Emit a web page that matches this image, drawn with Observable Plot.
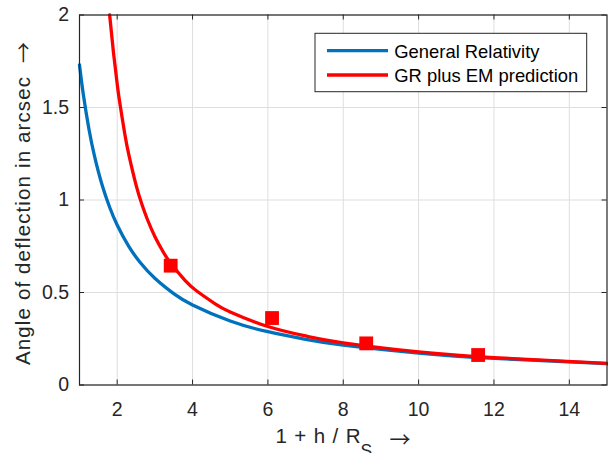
<!DOCTYPE html>
<html><head><meta charset="utf-8">
<script src="https://cdn.jsdelivr.net/npm/d3@7"></script>
<script src="https://cdn.jsdelivr.net/npm/@observablehq/plot@0.6"></script>
<style>body{margin:0;background:#fff} svg{display:block}</style>
</head><body><div id="chart"></div>
<script>
const seriesNames = ["General Relativity", "GR plus EM prediction"];
const grX = [1, 1.1, 1.25, 1.4, 1.6, 1.8, 2, 2.3, 2.6, 3, 3.5, 4, 5, 6, 7, 8, 10, 12, 15];
const grY = [1.73, 1.573, 1.384, 1.236, 1.081, 0.961, 0.865, 0.752, 0.665, 0.577, 0.494, 0.433, 0.346, 0.288, 0.247, 0.216, 0.173, 0.144, 0.115];
const emX = [1.8, 1.9, 2.0, 2.06, 2.2, 2.31, 2.5, 2.66, 2.8, 3.0, 3.2, 3.41, 3.8, 4.12, 4.6, 5, 6, 7, 8, 10, 12, 15];
const emY = [2.0, 1.80, 1.628, 1.538, 1.359, 1.244, 1.082, 0.974, 0.896, 0.803, 0.727, 0.661, 0.566, 0.507, 0.439, 0.395, 0.316, 0.265, 0.228, 0.179, 0.148, 0.117];
const obsX = [3.42, 6.11, 8.61, 11.58];
const obsY = [0.645, 0.362, 0.225, 0.162];
const xTicks = [2, 4, 6, 8, 10, 12, 14];
const yTicks = [0, 0.5, 1, 1.5, 2];
const xLabel = "1 + h / R", xLabelSub = "S";
const yLabel = "Angle of deflection in arcsec";
const arrow = "\u2192";

const W = 608, H = 453;
const mL = 79, mR = 1.5, mT = 14.5, mB = 68.5;
const innerW = W - mL - mR, innerH = H - mT - mB;
const blue = "#0072BD", red = "#FF0000", axisC = "#262626";
const font = "'Liberation Sans', Arial, Helvetica, sans-serif";
const arrowFont = "'Noto Sans CJK SC', 'DejaVu Sans', sans-serif";

const gr = grX.map((x, i) => ({x, y: grY[i]}));
const em = emX.map((x, i) => ({x, y: emY[i]}));
const obs = obsX.map((x, i) => ({x, y: obsY[i]}));

const chart = Plot.plot({
  width: W, height: H,
  marginLeft: mL, marginRight: mR, marginTop: mT, marginBottom: mB,
  style: {fontFamily: font, fontSize: "19.5px", color: axisC, background: "#fff", overflow: "visible"},
  x: {domain: [1, 15]},
  y: {domain: [0, 2]},
  marks: [
    Plot.gridX(xTicks, {stroke: "#dedede", strokeOpacity: 1}),
    Plot.gridY(yTicks, {stroke: "#dedede", strokeOpacity: 1}),
    Plot.axisX(xTicks, {tickSize: 0, tickPadding: 17.4, label: null, fill: axisC}),
    Plot.axisY(yTicks, {tickSize: 0, tickPadding: 10.5, label: null, tickFormat: d => String(d), fill: axisC}),
    Plot.tickX(xTicks, {x: d => d, insetTop: innerH - 5, stroke: axisC}),
    Plot.tickX(xTicks, {x: d => d, insetBottom: innerH - 5, stroke: axisC}),
    Plot.tickY(yTicks, {y: d => d, insetRight: innerW - 5, stroke: axisC}),
    Plot.tickY(yTicks, {y: d => d, insetLeft: innerW - 5, stroke: axisC}),
    Plot.line(gr, {x: "x", y: "y", stroke: blue, strokeWidth: 3.3, curve: "natural"}),
    Plot.line(em, {x: "x", y: "y", stroke: red, strokeWidth: 3.3, curve: "natural"}),
    Plot.dot(obs, {x: "x", y: "y", symbol: "square", r: 7.8, fill: red, stroke: "none"}),
    Plot.frame({stroke: axisC, strokeWidth: 1.2})
  ]
});

document.getElementById("chart").appendChild(chart);
const svg = d3.select(chart);

// x axis label
svg.append("text")
  .attr("x", 275.5).attr("y", 443.3)
  .attr("text-anchor", "start")
  .attr("textLength", 85).attr("lengthAdjust", "spacing")
  .attr("font-family", font).attr("font-size", 20.5).attr("fill", axisC)
  .text(xLabel);
svg.append("text")
  .attr("x", 360.5).attr("y", 456.5)
  .attr("text-anchor", "start")
  .attr("font-family", font).attr("font-size", 17.5).attr("fill", axisC)
  .text(xLabelSub);
svg.append("text")
  .attr("x", 400).attr("y", 447)
  .attr("text-anchor", "middle")
  .attr("font-family", arrowFont).attr("font-size", 21).attr("fill", axisC)
  .text(arrow);

// y axis label
svg.append("text")
  .attr("transform", `translate(29.5,365) rotate(-90)`)
  .attr("text-anchor", "start")
  .attr("textLength", 288).attr("lengthAdjust", "spacing")
  .attr("font-family", font).attr("font-size", 20.5).attr("fill", axisC)
  .text(yLabel);
svg.append("text")
  .attr("transform", `translate(30.5,52.5) rotate(-90)`)
  .attr("text-anchor", "middle")
  .attr("font-family", arrowFont).attr("font-size", 21).attr("fill", axisC)
  .text(arrow);

// legend
const lg = svg.append("g");
lg.append("rect").attr("x", 315).attr("y", 33.3).attr("width", 271.7).attr("height", 58.4)
  .attr("fill", "#fff").attr("stroke", axisC).attr("stroke-width", 1);
const legColors = [blue, red];
seriesNames.forEach((name, i) => {
  const cy = 50.7 + i * 24.3;
  lg.append("line").attr("x1", 327).attr("x2", 388).attr("y1", cy).attr("y2", cy)
    .attr("stroke", legColors[i]).attr("stroke-width", 3.3);
  lg.append("text").attr("x", 394.3).attr("y", cy + 6.8)
    .attr("text-anchor", "start")
    .attr("font-family", font).attr("font-size", 18.4).attr("fill", "#000").text(name);
});
</script>
</body></html>
